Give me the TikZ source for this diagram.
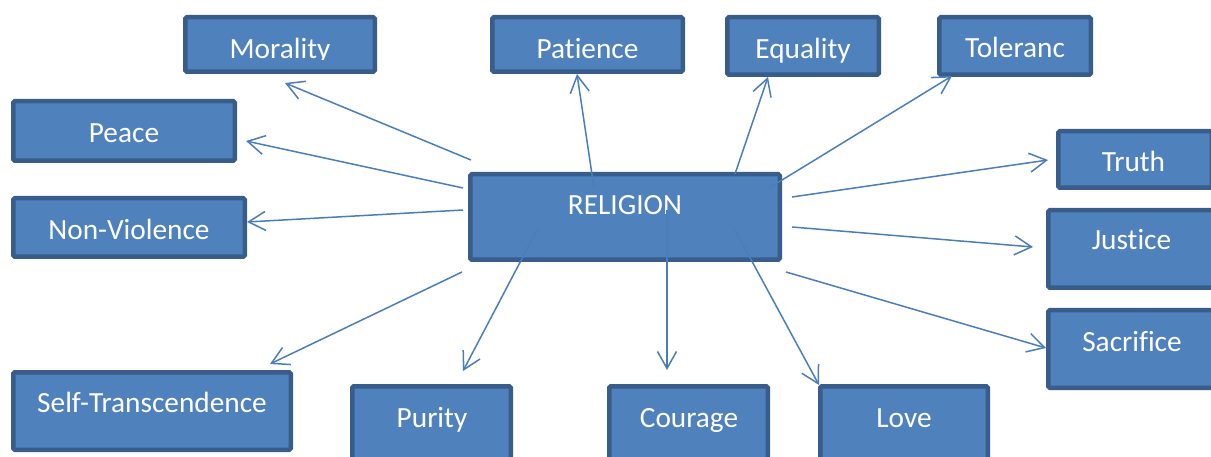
\documentclass[tikz,border=0pt]{standalone}
\usepackage{fontspec}
\setmainfont[Ligatures={NoCommon}]{Carlito}
\usetikzlibrary{arrows.meta}
\definecolor{boxfill}{HTML}{4F81BD}
\definecolor{boxline}{HTML}{385D8A}
\definecolor{arrcol}{HTML}{4A7EBB}
\tikzset{
  boxst/.style={draw=boxline, fill=boxfill, line width=4.5pt, rounded corners=1.5pt, inner sep=0pt},
  lbl/.style={anchor=base, text=white, inner sep=0pt, font=\fontsize{29.3}{34}\selectfont},
  arr/.style={draw=arrcol, line width=1.5pt, -{Straight Barb[length=17pt, width=19pt, line width=1.5pt]}}
}
\begin{document}
\begin{tikzpicture}[x=1pt, y=-1pt]
\useasboundingbox (0,0) rectangle (1211,457);
\clip (0,0) rectangle (1211,457);
% boxes
\node[boxst, minimum width=189.5pt, minimum height=54.5pt] (morality) at (280,44.5) {};
\node[boxst, minimum width=221.5pt, minimum height=59.5pt] (peace) at (124,131) {};
\node[boxst, minimum width=231.5pt, minimum height=58.5pt] (nonviol) at (129,227.5) {};
\node[boxst, minimum width=190.5pt, minimum height=54.5pt] (patience) at (587.5,44.5) {};
\node[boxst, minimum width=151.5pt, minimum height=57.5pt] (equality) at (803,46) {};
\node[boxst, minimum width=151.5pt, minimum height=57.5pt] (toleranc) at (1015,46) {};
\node[boxst, minimum width=153.5pt, minimum height=56.5pt] (truth) at (1135,159.5) {};
\node[boxst, minimum width=167.5pt, minimum height=77.5pt] (justice) at (1132,249) {};
\node[boxst, minimum width=167.5pt, minimum height=77.5pt] (sacrifice) at (1132,349) {};
\node[boxst, minimum width=309.5pt, minimum height=85.5pt] (religion) at (625,217) {};
\node[boxst, minimum width=277.5pt, minimum height=77.5pt] (selftr) at (152,411) {};
\node[boxst, minimum width=158.5pt, minimum height=81.5pt] (purity) at (431.5,427) {};
\node[boxst, minimum width=158.5pt, minimum height=81.5pt] (courage) at (688.5,427) {};
\node[boxst, minimum width=167.5pt, minimum height=81.5pt] (love) at (904,427) {};
% labels
\begin{scope}
\clip (183,15) rectangle (377,60);
\node[lbl] (l-morality) at (280,59) {Morality};
\end{scope}
\node[lbl] (l-peace) at (124,143) {Peace};
\node[lbl] (l-nonviol) at (129,240) {Non-Violence};
\node[lbl] (l-patience) at (587.5,59) {Patience};
\node[lbl] (l-equality) at (803,59) {Equality};
\node[lbl] (l-toleranc) at (1015,58) {Toleranc};
\node[lbl] (l-truth) at (1133.5,172) {Truth};
\node[lbl] (l-justice) at (1131.5,250) {Justice};
\node[lbl] (l-sacrifice) at (1132,352) {Sacrifice};
\node[lbl] (l-religion) at (625,215) {RELIGION};
\node[lbl] (l-selftr) at (152,412) {Self-Transcendence};
\node[lbl] (l-purity) at (432,427) {Purity};
\node[lbl] (l-courage) at (689,427) {Courage};
\node[lbl] (l-love) at (904,427) {Love};
% connector ends
\coordinate (s-morality) at (471,160);  \coordinate (t-morality) at (285,83);
\coordinate (s-peace) at (463,188);     \coordinate (t-peace) at (246,141);
\coordinate (s-nonviol) at (463,210);   \coordinate (t-nonviol) at (247,222);
\coordinate (s-patience) at (594,188);  \coordinate (t-patience) at (577,74);
\coordinate (s-equality) at (735,174);  \coordinate (t-equality) at (768,77);
\coordinate (s-toleranc) at (769,188);  \coordinate (t-toleranc) at (952,76);
\coordinate (s-truth) at (792,197);     \coordinate (t-truth) at (1048,160);
\coordinate (s-justice) at (792,227);   \coordinate (t-justice) at (1033,247);
\coordinate (s-sacrifice) at (786,272); \coordinate (t-sacrifice) at (1046,348);
\coordinate (s-selftr) at (462,272);    \coordinate (t-selftr) at (270,364);
\coordinate (s-purity) at (537,230);    \coordinate (t-purity) at (463,371);
\coordinate (s-courage) at (667,210);   \coordinate (t-courage) at (667,370);
\coordinate (s-love) at (735,230);      \coordinate (t-love) at (819,385);
% connectors
\foreach \n in {morality,peace,nonviol,patience,equality,toleranc,truth,justice,sacrifice,selftr,purity,courage,love}
  \draw[arr] (s-\n) -- (t-\n);
\end{tikzpicture}
\end{document}
